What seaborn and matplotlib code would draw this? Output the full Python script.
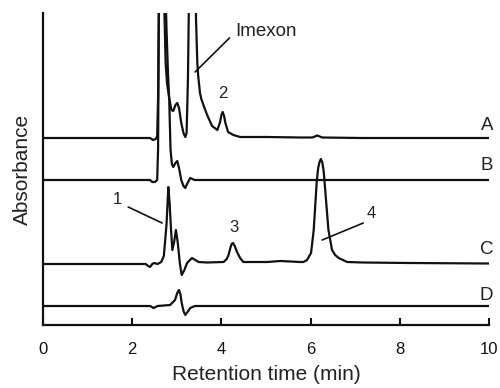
import numpy as np
import pandas as pd
import matplotlib
matplotlib.use("Agg")
import matplotlib.pyplot as plt
import seaborn as sns

# ---- data (retention time in min, signal above each trace's own baseline) ----
t_A = [0, 2.40, 2.47, 2.53, 2.56, 2.58, 2.60, 2.63, 2.66, 2.70, 2.72, 2.75, 2.78,
       2.83, 2.88, 2.92, 2.97, 3.01, 3.05, 3.10, 3.15, 3.19, 3.22, 3.25, 3.29,
       3.33, 3.37, 3.41, 3.43, 3.46, 3.48, 3.52, 3.55, 3.59, 3.63, 3.68, 3.79,
       3.91, 3.97, 4.00, 4.03, 4.06, 4.09, 4.15, 4.27, 4.42, 5.03, 5.77, 6.04,
       6.15, 6.26, 7.12, 10.0]
y_A = [0, 0, -2, -1, 2, 40, 150, 350, 420, 250, 130, 75, 55,
       40, 28, 27, 33, 35, 30, 15, 5, 1, 5, 60, 200,
       380, 420, 200, 120, 75, 62, 45, 39, 34, 29, 23, 12,
       8, 16, 23, 26, 22, 15, 6, 3, 1, 1, 0.5, 0.5,
       2.5, 0.5, 0, 0]

t_B = [0, 2.40, 2.45, 2.51, 2.56, 2.58, 2.60, 2.63, 2.66, 2.70, 2.74, 2.77, 2.80,
       2.83, 2.86, 2.89, 2.92, 2.97, 3.01, 3.05, 3.10, 3.15, 3.19, 3.23, 3.30,
       3.40, 10.0]
y_B = [0, 0, -2, -2, 0, 30, 180, 380, 420, 330, 200, 150, 110,
       80, 30, 16, 13, 17, 19, 12, 0, -6, -8, -4, 2,
       0, 0]

t_C = [0, 2.30, 2.36, 2.40, 2.45, 2.49, 2.57, 2.65, 2.71, 2.77, 2.81, 2.84, 2.87,
       2.90, 2.94, 2.98, 3.02, 3.07, 3.11, 3.17, 3.23, 3.34, 3.49, 3.67, 4.05,
       4.12, 4.16, 4.20, 4.23, 4.26, 4.30, 4.35, 4.42, 4.49, 5.03, 5.32, 5.77,
       5.84, 5.92, 6.01, 6.07, 6.14, 6.17, 6.20, 6.23, 6.26, 6.29, 6.31, 6.36,
       6.40, 6.48, 6.55, 6.63, 6.82, 7.18, 8.20, 10.0]
y_C = [0, 0, -2, -3, 0, 1, 0, 2, 8, 40, 77, 60, 35,
       14, 22, 34, 22, 0, -11, -6, 1, 6, 2, 1.5, 2,
       5, 9, 16, 20, 21, 18, 12, 6, 2, 2, 3, 2,
       2, 4, 11, 34, 84, 96, 102, 105, 102, 94, 84, 56,
       34, 14, 9, 6, 2, 1.5, 1, 0.5]

t_D = [0, 2.40, 2.48, 2.57, 2.85, 2.96, 3.01, 3.05, 3.08, 3.11, 3.15, 3.19, 3.24,
       3.30, 3.41, 10.0]
y_D = [0, 0, -2, 0, 1, 6, 13, 16, 12, 3, -5, -9, -6,
       -2, 0, 0]

trace_names = ["A", "B", "C", "D"]
x_ticks = [0, 2, 4, 6, 8, 10]

# ---- layout (not data) ----
offsets = {"A": 187, "B": 145, "C": 61, "D": 19}
series = {"A": (t_A, y_A), "B": (t_B, y_B), "C": (t_C, y_C), "D": (t_D, y_D)}

rows = []
for name in trace_names:
    tt, yy = series[name]
    for a, b in zip(tt, yy):
        rows.append({"trace": name, "time": a, "signal": b + offsets[name]})
df = pd.DataFrame(rows)

sns.set_theme(style="ticks")
plt.rcParams["font.family"] = ["Liberation Sans", "DejaVu Sans"]

fig = plt.figure(figsize=(5.0, 3.88), dpi=100)
ax = fig.add_axes([43 / 500, 1 - 325 / 388, 446 / 500, 312 / 388])

ink = "#111111"
for name in trace_names:
    sub = df[df["trace"] == name]
    sns.lineplot(data=sub, x="time", y="signal", ax=ax, color=ink, lw=1.6,
                 estimator=None, sort=False)

ax.set_xlim(0, 10)
ax.set_ylim(0, 312)
ax.set_xticks(x_ticks)
ax.set_xticklabels([str(v) for v in x_ticks])
ax.set_yticks([])
ax.tick_params(axis="x", direction="in", length=5, width=1.5, pad=12,
               labelsize=12, colors=ink)
for s in ["top", "right"]:
    ax.spines[s].set_visible(False)
for s in ["left", "bottom"]:
    ax.spines[s].set_linewidth(1.6)
    ax.spines[s].set_color(ink)

ax.set_xlabel("Retention time (min)", fontsize=15, labelpad=6, color="#222222")
ax.set_ylabel("Absorbance", fontsize=15, labelpad=8, color="#222222")

# trace labels
lab_y = {"A": 200, "B": 160, "C": 75, "D": 30}
for name in trace_names:
    ax.text(10.1, lab_y[name], name, ha="right", va="center", fontsize=13.5,
            color="#222222", clip_on=False)

# peak annotations
ax.text(4.31, 293, "Imexon", ha="left", va="center", fontsize=13.5, color="#222222")
ax.plot([3.41, 4.18], [253, 287], color=ink, lw=1.2)
ax.text(4.03, 232, "2", ha="center", va="center", fontsize=12, color="#222222")
ax.text(1.67, 125, "1", ha="center", va="center", fontsize=12, color="#222222")
ax.plot([1.91, 2.67], [118, 102], color=ink, lw=1.2)
ax.text(4.27, 98, "3", ha="center", va="center", fontsize=12, color="#222222")
ax.text(7.36, 111, "4", ha="center", va="center", fontsize=12, color="#222222")
ax.plot([6.26, 7.18], [85, 102], color=ink, lw=1.2)

fig.savefig("out.png", dpi=100)
